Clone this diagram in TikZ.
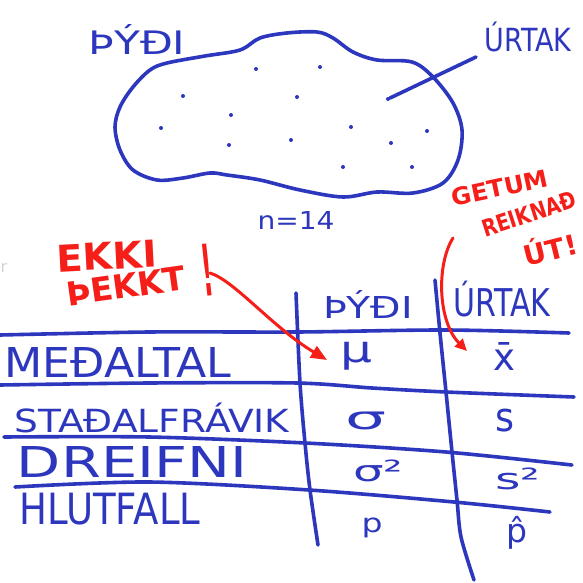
\documentclass[tikz,border=0pt]{standalone}
\usepackage{fontspec}
\setmainfont{DejaVu Sans}
\usepackage{graphicx}
\usetikzlibrary{arrows.meta}
\definecolor{penblue}{RGB}{45,55,190}
\definecolor{penred}{RGB}{245,30,25}
\newcommand{\handtxt}[3]{\resizebox*{#1pt}{#2pt}{#3}}
\begin{document}
\begin{tikzpicture}[x=1pt,y=-1pt,
  pen/.style={draw=penblue, line width=3.6pt, line cap=round, line join=round},
  redpen/.style={draw=penred, line width=3pt, line cap=round},
  bluetxt/.style={text=penblue, inner sep=0pt, font=\fontsize{20}{20}\selectfont},
  redtxt/.style={text=penred, inner sep=0pt, font=\fontsize{20}{20}\selectfont\bfseries},
  dot/.style={circle, fill=penblue, inner sep=0pt, minimum size=4pt}]
\useasboundingbox[fill=white] (0,0) rectangle (583,583);

% population cloud
\draw[pen] plot[smooth cycle, tension=0.55] coordinates {
  (167,63) (205,56) (240,50) (260,38) (287,33) (317,32) (333,38) (353,52)
  (377,60) (412,62) (433,77) (453,103) (462,130) (458,160) (443,183)
  (413,193) (377,192) (343,197) (300,190) (260,180) (227,175) (210,173)
  (183,178) (157,180) (133,170) (120,150) (115,127) (120,107) (133,87) (150,70)};

% dots
\foreach \n/\p in {1/{(256,69)},2/{(320,67)},3/{(183,96)},4/{(297,97)},5/{(388,99)},
  6/{(231,115)},7/{(161,128)},8/{(351,127)},9/{(427,131)},10/{(291,140)},
  11/{(229,145)},12/{(391,143)},13/{(343,167)},14/{(412,167)}}
  \node[dot] (d\n) at \p {};

\node[bluetxt] (pydiTop) at (137,40) {\handtxt{97}{30}{ÞÝÐI}};
\node[bluetxt] (urtakTop) at (528,37) {\handtxt{87}{30}{ÚRTAK}};
\coordinate (urtakEnd) at (476,57);
\draw[pen] (d5) -- (urtakEnd);
\node[bluetxt] (nlabel) at (296,220) {\handtxt{77}{18}{n=14}};

\node[text=gray!35, inner sep=0pt, font=\fontsize{16}{16}\selectfont] (rr) at (4,268) {r};

% red notes
\node[redtxt, rotate=3] (ekki) at (107,256) {\handtxt{100}{27}{EKKI}};
\node[redtxt, rotate=8] (thekkt) at (126,286) {\handtxt{120}{24}{ÞEKKT}};
\node[redtxt, rotate=6] (excl) at (207,270) {\handtxt{11}{52}{!}};
\node[redtxt, rotate=12] (getum) at (500,188) {\handtxt{98}{18}{GETUM}};
\node[redtxt, rotate=18] (reikna) at (529,214) {\handtxt{98}{17}{REIKNAÐ}};
\node[redtxt, rotate=14] (ut) at (550,248) {\handtxt{54}{26}{ÚT!}};

% table lines
\draw[pen] plot[smooth, tension=0.5] coordinates {(0,335) (149,332) (297,332) (446,330) (569,333)};
\draw[pen] plot[smooth, tension=0.5] coordinates {(0,385) (149,383) (297,383) (372,388) (446,392) (574,397)};
\draw[pen] plot[smooth, tension=0.5] coordinates {(4,437) (149,437) (305,443) (446,452) (572,465)};
\draw[pen] plot[smooth, tension=0.5] coordinates {(15,487) (149,482) (309,490) (454,502) (550,512)};
\draw[pen] plot[smooth, tension=0.5] coordinates {(296,293) (300,383) (305,443) (310,490) (318,545)};
\draw[pen] plot[smooth, tension=0.5] coordinates {(435,280) (440,333) (446,392) (452,452) (457,500) (461,537) (474,580)};

% headers
\node[bluetxt] (hpydi) at (368,304) {\handtxt{90}{28}{ÞÝÐI}};
\node[bluetxt] (hurtak) at (502,299) {\handtxt{97}{36}{ÚRTAK}};

% row labels
\node[bluetxt] (r1) at (118,362) {\handtxt{227}{30}{MEÐALTAL}};
\node[bluetxt] (r2) at (152,418) {\handtxt{275}{30}{STAÐALFRÁVIK}};
\node[bluetxt] (r3) at (132,462) {\handtxt{230}{31}{DREIFNI}};
\node[bluetxt] (r4) at (110,509) {\handtxt{181}{32}{HLUTFALL}};

% cells
\node[bluetxt] (mu) at (356,356) {\handtxt{32}{28}{μ}};
\node[bluetxt] (xbar) at (504,356) {\handtxt{22}{28}{\={x}}};
\node[bluetxt] (sigma) at (366,421) {\handtxt{41}{18}{σ}};
\node[bluetxt] (s) at (505,421) {\handtxt{19}{23}{s}};
\node[bluetxt] (sigma2) at (378,471) {\handtxt{50}{22}{σ²}};
\node[bluetxt] (s2) at (518,479) {\handtxt{45}{22}{s²}};
\node[bluetxt] (p) at (372,528) {\handtxt{21}{20}{p}};
\node[bluetxt] (phat) at (517,533) {\handtxt{21}{33}{\^{p}}};

% red arrows
\coordinate (a1start) at (210,273);
\coordinate (a1end) at (327,360);
\draw[redpen, -{Triangle[length=16pt, width=13pt]}] (a1start) .. controls (235,281) and (272,327) .. (a1end);
\coordinate (a2start) at (453,238);
\coordinate (a2end) at (467,351);
\draw[redpen, -{Triangle[length=12pt, width=11pt]}] (a2start) .. controls (436,265) and (438,322) .. (a2end);
\end{tikzpicture}
\end{document}
